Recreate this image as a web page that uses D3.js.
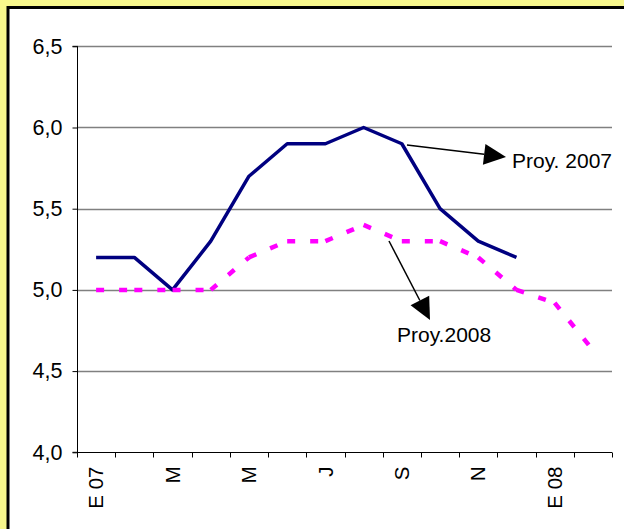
<!DOCTYPE html>
<html><head><meta charset="utf-8">
<script src="https://cdn.jsdelivr.net/npm/d3@7"></script>
<style>
html,body{margin:0;padding:0;background:#F7F78C;overflow:hidden;}
svg{display:block;}
text{font-family:"Liberation Sans",Arial,sans-serif;fill:#000;}
</style></head>
<body>
<script>
const categories = ["E 07","F","M","A","M","J","J","A","S","O","N","D","E 08","F"];
const tickLabels = ["E 07","","M","","M","","J","","S","","N","","E 08",""];
const proy2007 = [5.2,5.2,5.0,5.3,5.7,5.9,5.9,6.0,5.9,5.5,5.3,5.2];
const proy2008 = [5.0,5.0,5.0,5.0,5.2,5.3,5.3,5.4,5.3,5.3,5.2,5.0,4.92,4.63];
const yTicks = [4.0,4.5,5.0,5.5,6.0,6.5];

const W = 624, H = 529;
const svg = d3.select("body").append("svg").attr("width", W).attr("height", H);

// chart area frame
svg.append("rect").attr("x", 8).attr("y", 7.5).attr("width", W + 10).attr("height", H + 10)
  .attr("fill", "#fff").attr("stroke", "#000").attr("stroke-width", 3);

const x = d3.scaleBand().domain(d3.range(categories.length)).range([77, 612]);
const y = d3.scaleLinear().domain([4, 6.5]).range([452.3, 46.3]);
const cx = i => x(i) + x.bandwidth() / 2;

// gridlines
svg.append("g").selectAll("line").data(yTicks.filter(v => v > 4)).join("line")
  .attr("x1", 77).attr("x2", 612)
  .attr("y1", d => Math.round(y(d)) + 0.5).attr("y2", d => Math.round(y(d)) + 0.5)
  .attr("stroke", "#808080").attr("stroke-width", 1.3);

// y axis
const yAxis = d3.axisLeft(y).tickValues(yTicks).tickSize(5).tickPadding(10)
  .tickFormat(d => d3.format(".1f")(d).replace(".", ","));
const gy = svg.append("g").attr("transform", "translate(77.5,0)").call(yAxis);
gy.select(".domain").attr("stroke", "#000").attr("d", `M-5,${y(6.5)}H0V${y(4)}H-5`);
gy.selectAll(".tick line").attr("stroke", "#000");
gy.selectAll("text").style("font-size", "21.5px").style("font-family", "Liberation Sans, Arial, sans-serif");

// x axis
const gx = svg.append("g").attr("transform", `translate(0,${Math.round(y(4)) + 0.5})`);
gx.append("line").attr("x1", 77).attr("x2", 612).attr("stroke", "#000");
const bounds = d3.range(categories.length + 1).map(i => i < categories.length ? x(i) : x(categories.length - 1) + x.bandwidth());
gx.selectAll("line.t").data(bounds).join("line").attr("class", "t")
  .attr("x1", d => Math.round(d) + 0.5).attr("x2", d => Math.round(d) + 0.5)
  .attr("y1", 0).attr("y2", 5).attr("stroke", "#000");
gx.selectAll("text").data(tickLabels.map((t, i) => ({t, i})).filter(d => d.t)).join("text")
  .attr("transform", d => `translate(${cx(d.i)},${14}) rotate(-90)`)
  .attr("text-anchor", "end").attr("dy", "0.35em")
  .style("font-size", "20.5px")
  .text(d => d.t);

// Proy 2007 line
const line = d3.line().x((d, i) => cx(i)).y(d => y(d));
svg.append("path").datum(proy2007).attr("d", line)
  .attr("fill", "none").attr("stroke", "#000080").attr("stroke-width", 3.5)
  .attr("stroke-linejoin", "round");

// Proy 2008 dashed line, drawn segment by segment (dash restarts at each point)
const pts2008 = proy2008.map((v, i) => [cx(i), y(v)]);
svg.append("g").selectAll("path").data(d3.pairs(pts2008)).join("path")
  .attr("d", d => d3.line()(d))
  .attr("fill", "none").attr("stroke", "#FF00FF").attr("stroke-width", 4.5)
  .attr("stroke-dasharray", "8,15");

// annotations
function arrow(x1, y1, x2, y2) {
  const dx = x2 - x1, dy = y2 - y1, L = Math.hypot(dx, dy);
  const ux = dx / L, uy = dy / L, hl = 22, hw = 10.5;
  const bx = x2 - ux * hl, by = y2 - uy * hl;
  svg.append("line").attr("x1", x1).attr("y1", y1).attr("x2", bx).attr("y2", by)
    .attr("stroke", "#000").attr("stroke-width", 1.5);
  svg.append("path")
    .attr("d", `M${x2},${y2}L${bx - uy * hw},${by + ux * hw}L${bx + uy * hw},${by - ux * hw}Z`)
    .attr("fill", "#000");
}
arrow(407, 145, 506, 157);
arrow(389, 241, 430, 320);
svg.append("text").attr("x", 512).attr("y", 167.5).style("font-size", "21px").text("Proy. 2007");
svg.append("text").attr("x", 397).attr("y", 341.5).style("font-size", "21px").text("Proy.2008");
</script>
</body></html>
